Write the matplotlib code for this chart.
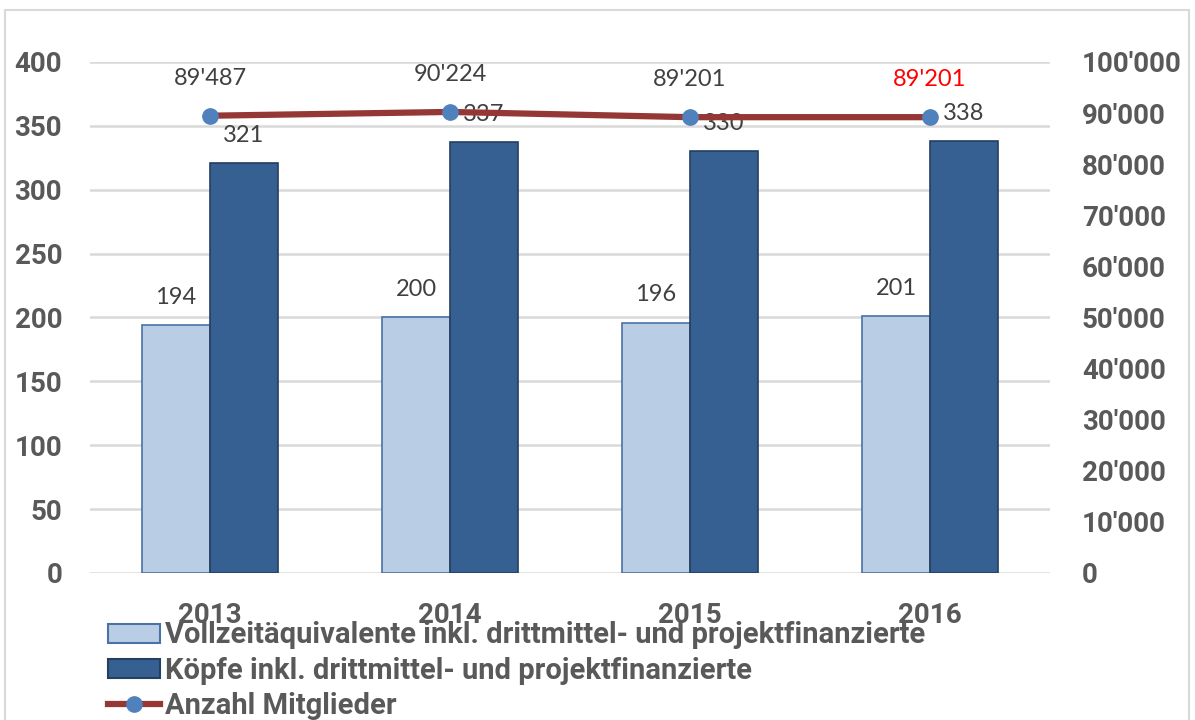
import matplotlib
matplotlib.use("Agg")
import matplotlib.pyplot as plt
from matplotlib.patches import Patch, Rectangle
from matplotlib.lines import Line2D
import numpy as np

plt.rcParams['font.family'] = ['Lato', 'DejaVu Sans']
BOLD = ['Roboto', 'DejaVu Sans']

years = ['2013', '2014', '2015', '2016']
vze = [194, 200, 196, 201]
koepfe = [321, 337, 330, 338]
mitglieder = [89487, 90224, 89201, 89201]
mitglieder_labels = ["89'487", "90'224", "89'201", "89'201"]
mitglieder_label_colors = ['#404040', '#404040', '#404040', '#FF0000']
left_ticks = [0, 50, 100, 150, 200, 250, 300, 350, 400]
right_ticks = [0, 10000, 20000, 30000, 40000, 50000, 60000, 70000, 80000, 90000, 100000]

light = '#B9CDE5'
light_edge = '#4A72A6'
dark = '#366092'
dark_edge = '#243F60'
line_red = '#953735'
marker_blue = '#4F81BD'
tick_gray = '#595959'
label_gray = '#404040'
grid_gray = '#D9D9D9'

fig = plt.figure(figsize=(11.95, 7.2), dpi=100)
# outer frame
fig.patches.append(Rectangle((0.004, -0.01), 0.991, 0.996, transform=fig.transFigure,
                             fill=False, edgecolor=grid_gray, linewidth=1.5))

ax = fig.add_axes([0.0753, 0.2042, 0.8034, 0.7097])
x = np.arange(len(years))
w = 0.283
ax.bar(x - w / 2, vze, w, color=light, edgecolor=light_edge, linewidth=1.2, zorder=2)
ax.bar(x + w / 2, koepfe, w, color=dark, edgecolor=dark_edge, linewidth=1.2, zorder=2)

for xi, v in zip(x, vze):
    ax.annotate(str(v), (xi - w / 2, v), xytext=(0, 20), textcoords='offset points',
                ha='center', va='center', fontsize=17, color=label_gray)
for xi, v in zip(x, koepfe):
    ax.annotate(str(v), (xi + w / 2, v), xytext=(0, 20), textcoords='offset points',
                ha='center', va='center', fontsize=17, color=label_gray, zorder=5)

ax.set_xlim(-0.5, len(years) - 0.5)
ax.set_ylim(0, 400)
ax.set_yticks(left_ticks)
ax.set_yticklabels([str(t) for t in left_ticks], fontsize=20, fontweight='bold',
                   color=tick_gray, family=BOLD)
ax.set_xticks(x)
ax.set_xticklabels(years, fontsize=20, fontweight='bold', color=tick_gray, family=BOLD)
ax.tick_params(axis='x', length=0, pad=21)
ax.tick_params(axis='y', length=0, pad=20)
ax.grid(axis='y', color=grid_gray, linewidth=1.8, zorder=0)
ax.set_axisbelow(True)
for s in ax.spines.values():
    s.set_visible(False)

ax2 = ax.twinx()
ax2.plot(x, mitglieder, color=line_red, linewidth=4.5, marker='o', markersize=11,
         markerfacecolor=marker_blue, markeredgecolor=marker_blue, zorder=3)
for xi, v, lab, c in zip(x, mitglieder, mitglieder_labels, mitglieder_label_colors):
    ax2.annotate(lab, (xi, v), xytext=(0, 27), textcoords='offset points',
                 ha='center', va='center', fontsize=17, color=c)
ax2.set_ylim(0, 100000)
ax2.set_yticks(right_ticks)
ax2.set_yticklabels(["{:,}".format(t).replace(',', "'") for t in right_ticks],
                    fontsize=20, fontweight='bold', color=tick_gray, family=BOLD)
ax2.tick_params(axis='y', length=0, pad=23)
for s in ax2.spines.values():
    s.set_visible(False)

handles = [
    Patch(facecolor=light, edgecolor=light_edge, linewidth=1.5),
    Patch(facecolor=dark, edgecolor=dark_edge, linewidth=1.5),
    Line2D([], [], color=line_red, linewidth=4.5, marker='o', markersize=11,
           markerfacecolor=marker_blue, markeredgecolor=marker_blue),
]
labels = ['Vollzeitäquivalente inkl. drittmittel- und projektfinanzierte',
          'Köpfe inkl. drittmittel- und projektfinanzierte',
          'Anzahl Mitglieder']
leg = fig.legend(handles, labels, loc='upper left', bbox_to_anchor=(0.0904, 0.137),
                 frameon=False, prop={'family': BOLD, 'weight': 'bold', 'size': 21},
                 handlelength=1.78, handleheight=0.62,
                 handletextpad=0.17, labelspacing=0.25, borderaxespad=0, borderpad=0)
for t in leg.get_texts():
    t.set_color(tick_gray)

fig.savefig('out.png', dpi=100)
